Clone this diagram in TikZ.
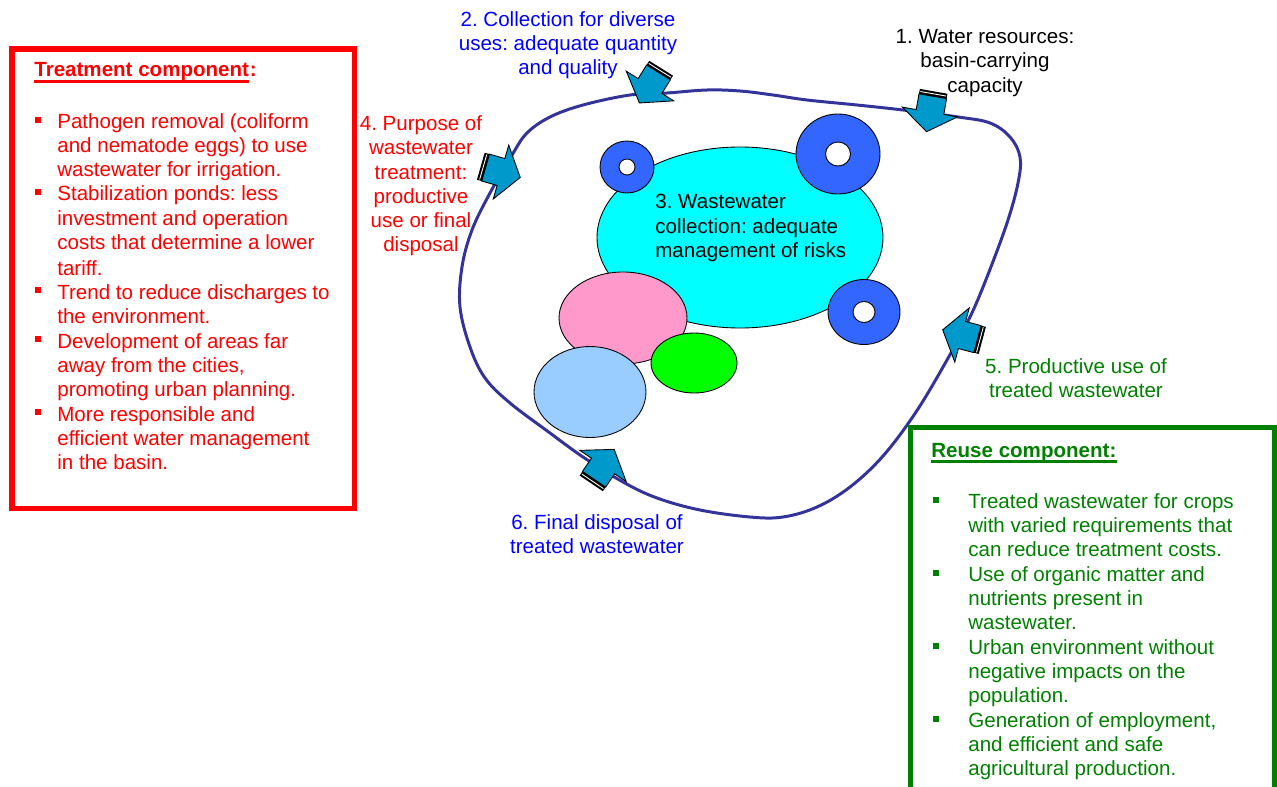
\documentclass[tikz,border=0pt]{standalone}
\usepackage{fontspec}
\setmainfont{Liberation Sans}
\frenchspacing
\definecolor{loopc}{RGB}{51,51,153}
\definecolor{arrowc}{RGB}{0,153,204}
\definecolor{darkgreen}{RGB}{0,128,0}
\definecolor{pureblue}{RGB}{0,0,255}
\definecolor{ringc}{RGB}{51,102,255}
\definecolor{cyanc}{RGB}{0,255,255}
\definecolor{pinkc}{RGB}{255,153,204}
\definecolor{greenc}{RGB}{0,255,0}
\definecolor{lbluec}{RGB}{153,204,255}
\tikzset{
  every node/.style={inner sep=0pt, font=\fontsize{11.7}{13.8}\selectfont\frenchspacing},
  loopline/.style={draw=loopc, line width=1.7pt},
  redbox/.style={draw=red, line width=2.85pt},
  greenbox/.style={draw=darkgreen, line width=2.85pt},
  blob/.style={draw=black, line width=0.5pt},
  redline/.style={anchor=base west, text=red},
  greenline/.style={anchor=base west, text=darkgreen},
  boldtitle/.style={font=\fontsize{11.7}{13.8}\selectfont\bfseries},
  uline/.style={line width=1.2pt},
  barrow/.pic={
    \filldraw[fill=arrowc, draw=black, line width=0.5pt]
      (-16,-14) -- (0,-14) -- (0,-28) -- (20,0) -- (0,28) -- (0,14) -- (-16,14) -- cycle;
    \fill[black] (-21,-14) rectangle (-16,14);
    \draw[white, line width=0.5pt] (-18.5,-13) -- (-18.5,13);
  }
}
\begin{document}
\begin{tikzpicture}[x=0.02cm, y=-0.02cm]
\useasboundingbox (0,0) rectangle (1277,787);
\clip (0,0) rectangle (1277,787);

% loop
\draw[loopline] plot[smooth cycle, tension=0.6] coordinates {
 (667,93) (707,90) (740,91) (773,95) (807,100) (857,105) (903,110) (958,117)
 (990,123) (1010,137) (1020,157) (1018,183) (1007,223) (987,277) (970,317)
 (947,360) (916,412) (883,456) (850,487) (817,507) (783,517)
 (750,517) (700,510) (657,498) (623,482) (583,457) (550,433) (510,403)
 (485,378) (470,347) (460,307) (462,267) (472,230) (490,193) (512,155)
 (527,133) (550,117) (583,105) (630,95)};

% blobs
\filldraw[blob, fill=cyanc] (740,237.5) ellipse [x radius=143, y radius=90.5];
\filldraw[blob, fill=ringc, even odd rule] (627,167) ellipse [x radius=27, y radius=26] (627,167) circle [radius=8];
\filldraw[blob, fill=ringc, even odd rule] (838,154) ellipse [x radius=42, y radius=40] (838,154) ellipse [x radius=12.5, y radius=12];
\filldraw[blob, fill=ringc, even odd rule] (864,312) ellipse [x radius=36, y radius=32.5] (864,312) ellipse [x radius=11, y radius=10.5];
\filldraw[blob, fill=pinkc] (623,318) ellipse [x radius=64, y radius=46];
\filldraw[blob, fill=greenc] (694,363) ellipse [x radius=43, y radius=30];
\filldraw[blob, fill=lbluec] (590,392) ellipse [x radius=56, y radius=45.5];

% arrows
\pic[rotate=-100] at (930,112) {barrow};
\pic[rotate=-122] at (650,86) {barrow};
\pic[rotate=-16] at (501,172) {barrow};
\pic[rotate=165] at (962,335) {barrow};
\pic[rotate=56] at (603,466) {barrow};

% labels
\node[align=center, text=pureblue] (l2) at (568,45) {2. Collection for diverse\\uses: adequate quantity\\and quality};
\node[align=center, text=black] (l1) at (985,63) {1. Water resources:\\basin-carrying\\capacity};
\node[align=center, text=red] (l4) at (421,186) {4. Purpose of\\wastewater\\treatment:\\productive\\use or final\\disposal};
\node[align=left, text=black, anchor=west] (l3) at (655,228) {3. Wastewater\\collection: adequate\\management of risks};
\node[align=center, text=darkgreen] (l5) at (1076,378) {5. Productive use of\\treated wastewater};
\node[align=center, text=pureblue] (l6) at (597,534) {6. Final disposal of\\treated wastewater};

% treatment box
\draw[redbox] (12,49) rectangle (354.5,508);
\node[redline, boldtitle] (ttitle) at (34,77) {Treatment component};
\node[redline, boldtitle] (tcolon) at (ttitle.base east) {:};
\draw[red, uline] ([shift={(0,4.5)}]ttitle.base west) -- ([shift={(0,4.5)}]ttitle.base east);
\foreach \by in {129,201,299,348,421} \fill[red] (35,\by-12) rectangle (41,\by-6);
\node[redline] (r1) at (57,129) {Pathogen removal (coliform};
\node[redline] (r2) at (57,153) {and nematode eggs) to use};
\node[redline] (r3) at (57,177) {wastewater for irrigation.};
\node[redline] (r4) at (57,201) {Stabilization ponds: less};
\node[redline] (r5) at (57,225) {investment and operation};
\node[redline] (r6) at (57,249) {costs that determine a lower};
\node[redline] (r7) at (57,275) {tariff.};
\node[redline] (r8) at (57,299) {Trend to reduce discharges to};
\node[redline] (r9) at (57,323) {the environment.};
\node[redline] (r10) at (57,348) {Development of areas far};
\node[redline] (r11) at (57,372) {away from the cities,};
\node[redline] (r12) at (57,396) {promoting urban planning.};
\node[redline] (r13) at (57,421) {More responsible and};
\node[redline] (r14) at (57,445) {efficient water management};
\node[redline] (r15) at (57,469) {in the basin.};

% reuse box
\draw[greenbox] (910,427.5) rectangle (1274.5,800);
\node[greenline, boldtitle] (gtitle) at (931,457) {Reuse component:};
\draw[darkgreen, uline] ([shift={(0,4.5)}]gtitle.base west) -- ([shift={(0,4.5)}]gtitle.base east);
\foreach \by in {508,581,654,727} \fill[darkgreen] (933,\by-11) rectangle (939,\by-5);
\node[greenline] (g1) at (968,508) {Treated wastewater for crops};
\node[greenline] (g2) at (968,532) {with varied requirements that};
\node[greenline] (g3) at (968,556) {can reduce treatment costs.};
\node[greenline] (g4) at (968,581) {Use of organic matter and};
\node[greenline] (g5) at (968,605) {nutrients present in};
\node[greenline] (g6) at (968,629) {wastewater.};
\node[greenline] (g7) at (968,654) {Urban environment without};
\node[greenline] (g8) at (968,678) {negative impacts on the};
\node[greenline] (g9) at (968,702) {population.};
\node[greenline] (g10) at (968,727) {Generation of employment,};
\node[greenline] (g11) at (968,751) {and efficient and safe};
\node[greenline] (g12) at (968,775) {agricultural production.};
\end{tikzpicture}
\end{document}
